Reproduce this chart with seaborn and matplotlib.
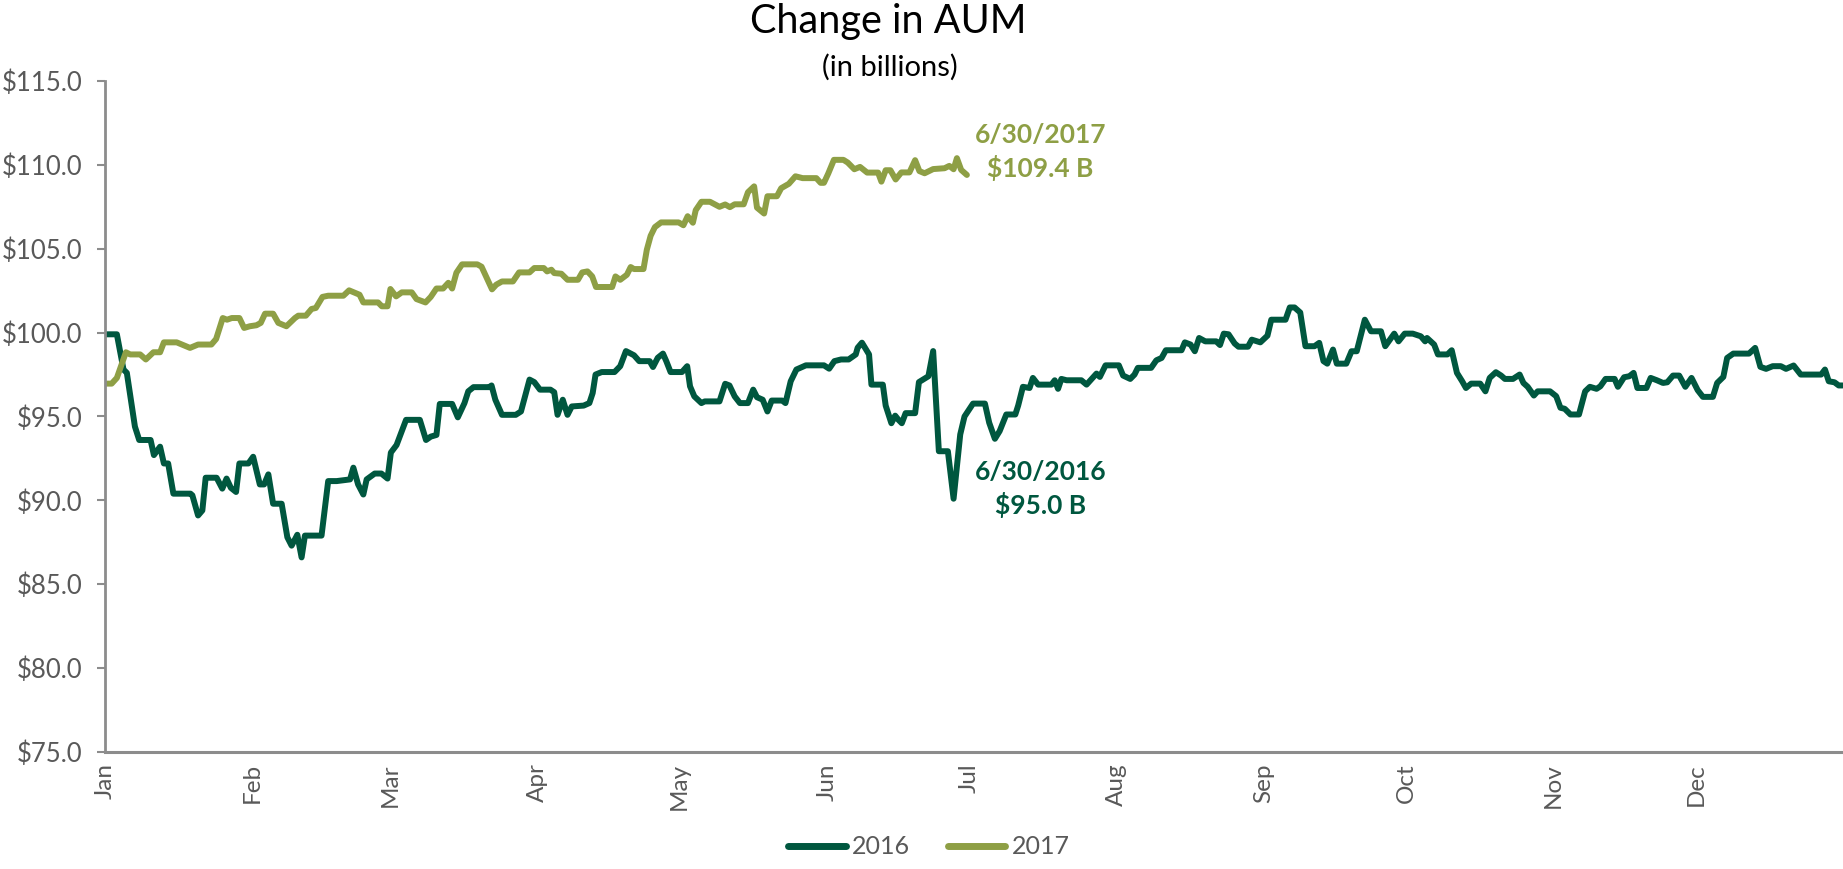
import numpy as np
import pandas as pd
import matplotlib
matplotlib.use("Agg")
import matplotlib.pyplot as plt
import seaborn as sns
from matplotlib.ticker import FuncFormatter

# ---- data (day offset from Jan 1, AUM in $ billions) ----
months = ["Jan", "Feb", "Mar", "Apr", "May", "Jun",
          "Jul", "Aug", "Sep", "Oct", "Nov", "Dec"]
month_start_days = [0, 31, 60, 91, 121, 152, 182, 213, 244, 274, 305, 335]
y_ticks = [75, 80, 85, 90, 95, 100, 105, 110, 115]

days_2016 = [
    0, 2.5, 3.9, 4.6, 6.3, 7.2, 9.6, 10.3, 11.6, 12.4, 13.3, 14.4, 18.0, 18.4,
    19.6, 20.5, 21.2, 23.5, 24.7, 25.6, 26.5, 27.6, 28.3, 30.2, 31.2, 32.6,
    33.5, 34.4, 35.4, 37.2, 38.4, 39.3, 40.5, 41.4, 42.1, 45.6, 47.0, 48.8,
    51.6, 52.3, 53.3, 54.4, 55.1, 56.8, 58.2, 59.5, 60.2, 61.4, 63.4, 66.3,
    67.6, 68.6, 69.8, 70.5, 73.1, 74.3, 75.7, 76.5, 77.6, 80.9, 81.4, 82.2,
    83.6, 86.5, 87.6, 89.4, 90.4, 91.6, 93.8, 94.6, 95.3, 96.4, 97.4, 98.3,
    100.8, 102.0, 102.7, 103.3, 104.6, 107.3, 108.5, 109.7, 111.4, 112.5,
    114.7, 115.4, 116.4, 117.5, 118.2, 119.1, 121.5, 122.6, 123.2, 124.1,
    125.6, 126.3, 129.4, 130.6, 131.5, 132.6, 133.7, 135.4, 136.5, 137.3,
    138.5, 139.5, 140.4, 142.6, 143.3, 144.4, 145.6, 147.6, 151.4, 152.5,
    153.6, 155.0, 156.6, 158.1, 158.5, 159.4, 160.9, 161.4, 163.8, 164.4,
    165.6, 166.4, 167.1, 167.8, 168.6, 170.6, 171.4, 173.4, 174.4, 175.6,
    177.5, 178.7, 180.1, 181.0, 182.8, 185.3, 186.2, 187.4, 188.4, 189.8,
    191.7, 192.3, 193.3, 194.7, 195.4, 196.5, 199.3, 200.0, 200.7, 201.4,
    202.5, 205.6, 206.7, 208.8, 209.5, 210.7, 213.5, 214.4, 215.9, 216.8,
    217.5, 220.3, 221.4, 222.5, 223.4, 226.7, 227.4, 228.6, 229.5, 230.4,
    231.7, 234.0, 234.8, 235.6, 236.6, 237.9, 238.7, 240.7, 241.5, 243.3,
    244.8, 245.6, 248.6, 249.5, 250.5, 251.7, 252.8, 254.7, 255.7, 256.6,
    257.4, 258.6, 259.4, 261.4, 262.5, 263.6, 265.3, 266.6, 268.7, 269.6,
    271.5, 272.4, 273.7, 275.4, 277.1, 278.0, 278.4, 279.9, 280.7, 282.7,
    283.6, 284.7, 285.8, 286.6, 287.7, 289.6, 290.7, 291.6, 292.9, 294.0,
    294.8, 296.5, 297.9, 298.7, 299.6, 300.9, 301.7, 304.3, 305.6, 306.5,
    307.4, 308.6, 310.4, 311.7, 312.7, 314.1, 314.9, 316.0, 317.9, 318.6,
    319.9, 321.0, 321.9, 322.7, 324.6, 325.5, 326.8, 328.1, 329.0, 330.2,
    331.5, 332.8, 334.1, 335.4, 336.5, 338.6, 339.5, 340.8, 341.6, 342.9,
    346.2, 347.5, 348.6, 349.8, 351.2, 352.9, 354.0, 355.6, 357.1, 361.4,
    362.2, 363.0, 364.2, 365.1, 365.9,
]
aum_2016 = [
    99.9, 99.9, 97.8, 97.6, 94.4, 93.6, 93.6, 92.7, 93.2, 92.2, 92.2, 90.4, 90.4, 90.3,
    89.1, 89.4, 91.35, 91.35, 90.7, 91.3, 90.75, 90.5, 92.2, 92.2, 92.6, 90.95,
    90.95, 91.55, 89.8, 89.8, 87.8, 87.3, 87.95, 86.6, 87.9, 87.9, 91.15, 91.15,
    91.25, 91.95, 90.95, 90.35, 91.25, 91.6, 91.6, 91.3, 92.85, 93.3, 94.8, 94.8,
    93.6, 93.8, 93.9, 95.75, 95.75, 94.95, 95.8, 96.5, 96.75, 96.75, 96.85, 96.0,
    95.1, 95.1, 95.3, 97.2, 97.05, 96.6, 96.6, 96.45, 95.1, 96.0, 95.1, 95.6,
    95.65, 95.8, 96.4, 97.5, 97.65, 97.65, 98.0, 98.9, 98.65, 98.3,
    98.3, 97.95, 98.5, 98.75, 98.3, 97.65, 97.65, 98.0, 96.8, 96.2,
    95.8, 95.9, 95.9, 96.95, 96.85, 96.2, 95.8, 95.8, 96.6, 96.15,
    96.0, 95.3, 95.95, 95.95, 95.8, 97.1, 97.8, 98.05, 98.05, 97.85,
    98.3, 98.4, 98.4, 98.7, 99.1, 99.4, 98.7, 96.9, 96.9, 95.65,
    94.6, 95.05, 94.8, 94.6, 95.2, 95.2, 97.05, 97.4, 98.9, 92.93,
    92.93, 90.1, 93.93, 95.0, 95.77, 95.77, 94.63, 93.67, 94.13, 95.12,
    95.12, 95.65, 96.77, 96.7, 97.3, 96.9, 96.9, 97.16, 96.65, 97.24,
    97.16, 97.16, 96.9, 97.56, 97.36, 98.05, 98.05, 97.44, 97.24, 97.5,
    97.9, 97.9, 98.35, 98.49, 98.95, 98.95, 99.42, 99.29, 98.89, 99.68,
    99.48, 99.48, 99.26, 99.94, 99.9, 99.35, 99.16, 99.16, 99.58, 99.42,
    99.82, 100.77, 100.77, 101.5, 101.5, 101.2, 99.19, 99.19, 99.39, 98.3,
    98.15, 98.99, 98.15, 98.15, 98.89, 98.89, 100.77, 100.08, 100.08, 99.19,
    99.94, 99.48, 99.94, 99.94, 99.78, 99.48, 99.68, 99.29, 98.7, 98.7,
    98.95, 97.6, 97.1, 96.7, 96.96, 96.96, 96.5, 97.3, 97.64, 97.44,
    97.24, 97.24, 97.5, 97.0, 96.77, 96.25, 96.5, 96.5, 96.21, 95.52,
    95.46, 95.12, 95.12, 96.5, 96.77, 96.65, 96.8, 97.24, 97.24, 96.77,
    97.34, 97.4, 97.6, 96.7, 96.7, 97.3, 97.16, 97.0, 97.04, 97.44,
    97.44, 96.77, 97.3, 96.57, 96.17, 96.17, 97.0, 97.36, 98.49, 98.75,
    98.75, 99.09, 97.96, 97.84, 98.0, 98.0, 97.84, 98.04, 97.5, 97.5,
    97.8, 97.1, 97.04, 96.85, 96.85,
]

days_2017 = [
    0, 1.4, 2.5, 4.4, 5.3, 7.4, 8.6, 10.2, 11.6, 12.4, 15.1, 17.9, 19.6, 22.4,
    23.4, 24.8, 25.7, 26.7, 28.3, 29.3, 30.5, 31.9, 32.8, 33.7, 35.4, 36.5,
    38.2, 40.0, 40.7, 42.3, 43.5, 44.4, 45.8, 47.0, 50.2, 51.4, 53.6, 54.4,
    57.5, 58.3, 59.5, 60.1, 61.3, 62.5, 64.6, 65.6, 67.5, 68.6, 69.8, 71.2,
    72.3, 73.1, 74.0, 75.2, 78.4, 79.3, 80.4, 81.5, 82.4, 83.6, 85.9, 87.2,
    89.4, 90.4, 92.4, 93.1, 94.0, 94.6, 96.1, 97.4, 99.6, 100.5, 101.6, 102.6,
    103.4, 106.8, 107.5, 108.5, 109.9, 110.7, 111.4, 113.4, 114.1, 114.9,
    115.8, 117.1, 120.8, 121.8, 122.7, 123.8, 124.4, 125.6, 127.4, 129.4,
    130.6, 131.6, 132.6, 134.5, 135.4, 136.7, 137.3, 138.8, 139.5, 141.5,
    142.4, 144.0, 145.4, 146.9, 149.8, 150.7, 151.4, 152.3, 153.5, 155.5,
    156.4, 157.8, 159.0, 160.5, 162.8, 163.5, 164.4, 165.4, 166.5, 167.7,
    169.4, 170.6, 171.5, 172.6, 174.4, 176.8, 177.8, 178.7, 179.4, 180.3, 181.5,
]
aum_2017 = [
    96.96, 96.96, 97.3, 98.83, 98.7, 98.7, 98.4, 98.83, 98.83, 99.42, 99.42, 99.09, 99.29, 99.29,
    99.62, 100.87, 100.77, 100.87, 100.87, 100.28, 100.38, 100.44, 100.58, 101.13, 101.13, 100.58,
    100.38, 100.87, 101.01, 101.01, 101.41, 101.47, 102.13, 102.2, 102.2, 102.52, 102.26, 101.8,
    101.8, 101.57, 101.57, 102.6, 102.16, 102.4, 102.4, 102.0, 101.8, 102.13, 102.63, 102.63,
    102.97, 102.63, 103.57, 104.07, 104.07, 103.93, 103.26, 102.58, 102.86, 103.05, 103.05, 103.59,
    103.59, 103.85, 103.85, 103.65, 103.75, 103.55, 103.51, 103.15, 103.15, 103.59, 103.65, 103.35,
    102.72, 102.72, 103.35, 103.15, 103.45, 103.91, 103.79, 103.79, 104.94, 105.77,
    106.29, 106.57, 106.57, 106.4, 106.94, 106.55, 107.3, 107.8, 107.8, 107.5,
    107.64, 107.48, 107.65, 107.65, 108.37, 108.72, 107.45, 107.1, 108.13, 108.13,
    108.61, 108.87, 109.32, 109.21, 109.21, 108.93, 108.93, 109.48, 110.3, 110.3,
    110.14, 109.74, 109.88, 109.54, 109.54, 109.0, 109.68, 109.68, 109.13, 109.55,
    109.55, 110.28, 109.63, 109.5, 109.75, 109.8, 109.94, 109.74, 110.4, 109.7, 109.4,
]

GREEN = "#00573F"
OLIVE = "#8E9F45"
GREY_TXT = "#595959"
GREY_AX = "#8C8C8C"

df = pd.concat([
    pd.DataFrame({"day": days_2016, "aum": aum_2016, "year": "2016"}),
    pd.DataFrame({"day": days_2017, "aum": aum_2017, "year": "2017"}),
], ignore_index=True)

sns.set_theme(style="white")
plt.rcParams["font.family"] = ["Lato", "DejaVu Sans"]

W, H = 1843, 869
fig = plt.figure(figsize=(W / 100, H / 100), dpi=100)
ax = fig.add_axes([105 / W, 1 - 752 / H, 1 - 105 / W, (752 - 81) / H])

sns.lineplot(data=df, x="day", y="aum", hue="year",
             palette={"2016": GREEN, "2017": OLIVE},
             estimator=None, sort=False, linewidth=4.3, ax=ax,
             solid_joinstyle="round", solid_capstyle="round")

ax.set_xlim(0, 366)
ax.set_ylim(75, 115)
ax.set_yticks(y_ticks)
ax.yaxis.set_major_formatter(FuncFormatter(lambda v, p: f"${v:.1f}"))
ax.set_xticks(month_start_days)
ax.set_xticklabels(months, rotation=90)
ax.set_xlabel("")
ax.set_ylabel("")

for s in ["top", "right"]:
    ax.spines[s].set_visible(False)
ax.spines["left"].set_color(GREY_AX)
ax.spines["left"].set_linewidth(2)
ax.spines["bottom"].set_color(GREY_AX)
ax.spines["bottom"].set_linewidth(2.2)

ax.tick_params(axis="y", which="major", left=True, length=6, width=1.5,
               color=GREY_AX, pad=10, labelsize=18.5, labelcolor=GREY_TXT)
ax.tick_params(axis="x", which="major", bottom=False, length=0, pad=8,
               labelsize=17.5, labelcolor=GREY_TXT)

# Title
fig.text(888 / W, 1 - 33 / H, "Change in AUM", ha="center", va="baseline",
         fontsize=28.5, color="black")
fig.text(890 / W, 1 - 76 / H, "(in billions)", ha="center", va="baseline",
         fontsize=21, color="black")

# Annotations
ax.text(197, 111.79, "6/30/2017", ha="center", va="center", fontsize=19,
        fontweight="bold", color=OLIVE)
ax.text(197, 109.82, "$109.4 B", ha="center", va="center", fontsize=19,
        fontweight="bold", color=OLIVE)
ax.text(197, 91.67, "6/30/2016", ha="center", va="center", fontsize=19,
        fontweight="bold", color=GREEN)
ax.text(197, 89.73, "$95.0 B", ha="center", va="center", fontsize=19,
        fontweight="bold", color=GREEN)

# Legend
handles, labels = ax.get_legend_handles_labels()
leg = ax.legend(handles, labels, loc="center",
                bbox_to_anchor=(929 / W, 1 - 847 / H),
                bbox_transform=fig.transFigure, ncol=2, frameon=False,
                fontsize=18, handlelength=2.3, handletextpad=0.25,
                columnspacing=1.5, labelcolor=GREY_TXT)
for line in leg.get_lines():
    line.set_linewidth(5)
    line.set_solid_capstyle("round")

fig.savefig("out.png", dpi=100)
